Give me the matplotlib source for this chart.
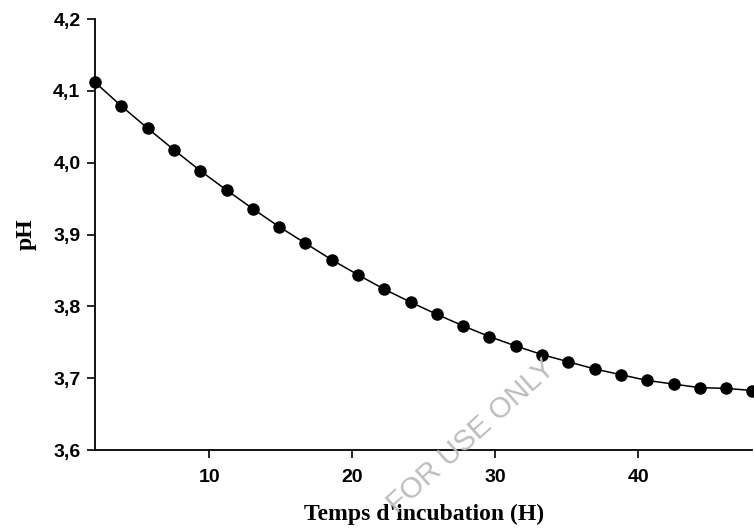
import matplotlib
matplotlib.use("Agg")
import matplotlib.pyplot as plt
import numpy as np
from matplotlib.ticker import FuncFormatter

# incubation time (h) and measured pH
time_h = np.linspace(2, 48, 26)
ph = [4.112, 4.079, 4.048, 4.018, 3.989, 3.962, 3.936, 3.911, 3.888, 3.865,
      3.844, 3.824, 3.806, 3.789, 3.773, 3.758, 3.745, 3.733, 3.723, 3.713,
      3.705, 3.697, 3.692, 3.687, 3.686, 3.683]

x_ticks = [10, 20, 30, 40]
y_ticks = [3.6, 3.7, 3.8, 3.9, 4.0, 4.1, 4.2]

fig = plt.figure(figsize=(7.54, 5.29), dpi=100)
ax = fig.add_axes([0.126, 0.149, 0.872, 0.815])

ax.plot(time_h, ph, color="black", linewidth=1.1, marker="o",
        markersize=8, markerfacecolor="black", markeredgecolor="black",
        clip_on=False, zorder=3)

ax.set_xlim(2, 48)
ax.set_ylim(3.6, 4.2)
ax.set_xticks(x_ticks)
ax.set_yticks(y_ticks)
ax.yaxis.set_major_formatter(FuncFormatter(lambda v, _: f"{v:.1f}".replace(".", ",")))

for side in ["top", "right"]:
    ax.spines[side].set_visible(False)
for side in ["left", "bottom"]:
    ax.spines[side].set_linewidth(1.3)

ax.tick_params(axis="both", direction="out", length=5.5, width=1.2,
               labelsize=14)
ax.tick_params(axis="x", pad=8)
ax.tick_params(axis="y", pad=5)
for lab in ax.get_xticklabels() + ax.get_yticklabels():
    lab.set_family("Liberation Sans")
    lab.set_fontweight("bold")

ax.set_xlabel("Temps d'incubation (H)", family="Liberation Serif",
              fontweight="bold", fontsize=17, labelpad=13)
ax.set_ylabel("pH", family="Liberation Serif", fontweight="bold",
              fontsize=17, labelpad=12)

# watermark
fig.text(0.625, 0.175, "FOR USE ONLY", family="Liberation Sans",
         fontsize=21, color="#bdbdbd", rotation=42,
         ha="center", va="center", zorder=0)

fig.savefig("out.png", dpi=100, facecolor="white")
